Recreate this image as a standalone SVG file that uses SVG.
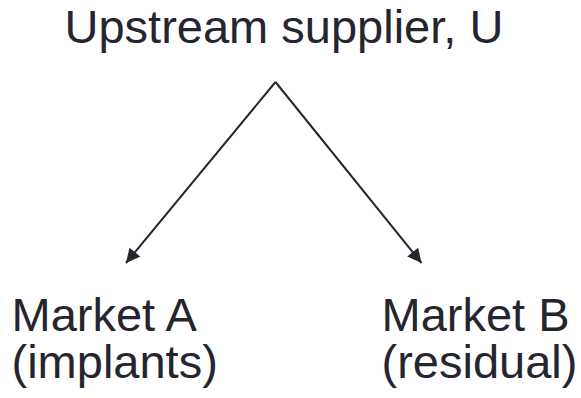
<svg xmlns="http://www.w3.org/2000/svg" width="581" height="398" viewBox="0 0 581 398">
  <style>
    .lbl { font-family: "Liberation Sans", Arial, sans-serif; font-size: 47px; fill: #25252f; }
    .edge { stroke: #25252f; stroke-width: 2; fill: none; marker-end: url(#head); }
  </style>
  <defs>
    <marker id="head" viewBox="0 0 10 10" refX="10" refY="5" markerUnits="userSpaceOnUse" markerWidth="16" markerHeight="14" orient="auto">
      <path d="M0,0 L10,5 L0,10 Z" fill="#25252f"/>
    </marker>
  </defs>
  <rect width="581" height="398" fill="#ffffff"/>

  <g id="supplier">
    <text class="lbl" x="64.5" y="43">Upstream supplier, U</text>
  </g>

  <g id="connectors">
    <path class="edge" d="M275.5,82 L126,263"/>
    <path class="edge" d="M275.5,82 L421.5,263"/>
  </g>

  <g id="market-a">
    <text class="lbl" x="11.5" y="331">Market A</text>
    <text class="lbl" x="11.5" y="378">(implants)</text>
  </g>

  <g id="market-b">
    <text class="lbl" x="381.5" y="331">Market B</text>
    <text class="lbl" x="381.5" y="378">(residual)</text>
  </g>
</svg>
